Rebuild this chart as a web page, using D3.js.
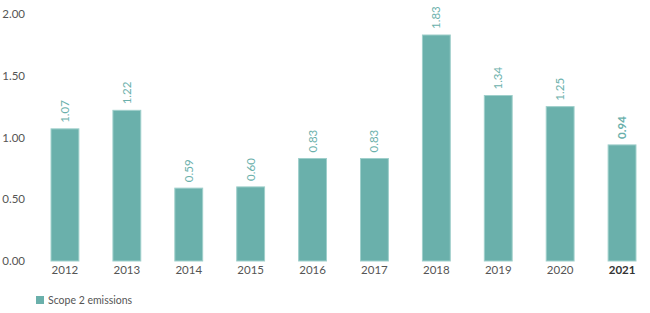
<!DOCTYPE html>
<html>
<head>
<meta charset="utf-8">
<script src="https://cdn.jsdelivr.net/npm/d3@7"></script>
<style>
  body { margin: 0; background: #fff; }
  text { font-family: "Lato", "Open Sans", sans-serif; }
</style>
</head>
<body>
<div id="chart"></div>
<script>
// Data
var years = ["2012", "2013", "2014", "2015", "2016", "2017", "2018", "2019", "2020", "2021"];
var emissions = [1.07, 1.22, 0.59, 0.60, 0.83, 0.83, 1.83, 1.34, 1.25, 0.94];
var yTicks = [0, 0.5, 1, 1.5, 2];
var seriesName = "Scope 2 emissions";

var width = 650, height = 313;
var barColor = "#6ab0ab";

var svg = d3.select("#chart").append("svg")
  .attr("width", width)
  .attr("height", height);

var xScale = d3.scaleBand()
  .domain(years)
  .range([34, 653])
  .paddingInner(0.55)
  .paddingOuter(0.275);

var yScale = d3.scaleLinear()
  .domain([0, 2])
  .range([261, 14]);

// y axis labels
var yAxis = d3.axisLeft(yScale)
  .tickValues(yTicks)
  .tickFormat(d3.format(".2f"))
  .tickSize(0)
  .tickPadding(0);
var gy = svg.append("g")
  .attr("transform", "translate(25,0)")
  .call(yAxis);
gy.select(".domain").remove();
gy.selectAll("text")
  .attr("fill", "#555")
  .style("font-size", "11.5px");

// x axis labels
var xAxis = d3.axisBottom(xScale).tickSize(0).tickPadding(4);
var gx = svg.append("g")
  .attr("transform", "translate(0,262)")
  .call(xAxis);
gx.select(".domain").remove();
gx.selectAll("text")
  .attr("fill", function(d) { return d === "2021" ? "#333" : "#555"; })
  .style("font-weight", function(d) { return d === "2021" ? "bold" : "normal"; })
  .style("font-size", "11.5px");

// bars
var data = years.map(function(y, i) { return { year: y, value: emissions[i] }; });

svg.selectAll("rect.bar")
  .data(data)
  .enter()
  .append("rect")
  .attr("class", "bar")
  .attr("x", function(d) { return xScale(d.year); })
  .attr("y", function(d) { return yScale(d.value); })
  .attr("width", xScale.bandwidth())
  .attr("height", function(d) { return yScale(0) - yScale(d.value); })
  .attr("fill", barColor)
  .attr("stroke", "#9fcfcb")
  .attr("stroke-width", 1);

// value labels, rotated
svg.selectAll("text.val")
  .data(data)
  .enter()
  .append("text")
  .attr("class", "val")
  .attr("transform", function(d) {
    var cx = xScale(d.year) + xScale.bandwidth() / 2;
    return "translate(" + (cx + 4) + "," + (yScale(d.value) - 6) + ") rotate(-90)";
  })
  .attr("text-anchor", "start")
  .attr("fill", barColor)
  .style("font-size", "11.5px")
  .style("font-weight", function(d) { return d.year === "2021" ? "bold" : "normal"; })
  .text(function(d) { return d3.format(".2f")(d.value); });

// legend
var legend = svg.append("g").attr("transform", "translate(36,296)");
legend.append("rect")
  .attr("width", 8)
  .attr("height", 8)
  .attr("fill", barColor);
legend.append("text")
  .attr("x", 12)
  .attr("y", 7.5)
  .attr("fill", "#555")
  .style("font-size", "10.5px")
  .text(seriesName);
</script>
</body>
</html>
